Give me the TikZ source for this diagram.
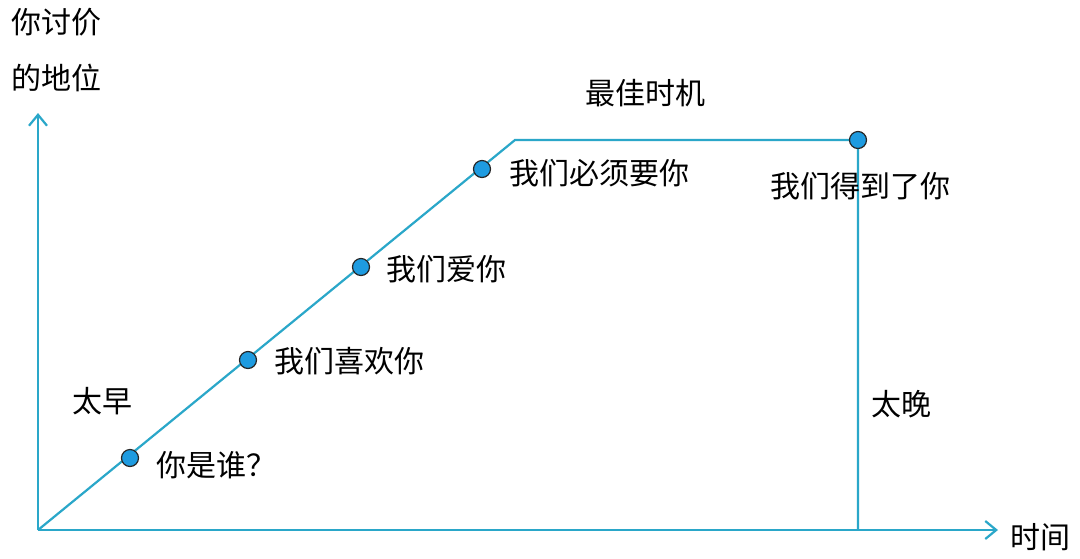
\documentclass[tikz,border=0pt]{standalone}
\usepackage{fontspec}
\newfontfamily\cjk{Noto Sans CJK SC}
\usetikzlibrary{arrows.meta}
\definecolor{ln}{HTML}{2AA7C9}
\definecolor{dotf}{HTML}{1E9BE0}
\begin{document}
\begin{tikzpicture}[x=1pt,y=-1pt,
  lbl/.style={font=\cjk\fontsize{30}{33}\selectfont,inner sep=0pt},
  dot/.style={circle,draw=black!85,line width=1.2pt,fill=dotf,minimum size=17pt,inner sep=0pt},
  ax/.style={draw=ln,line width=2.2pt,-{Straight Barb[length=11pt,width=18pt,line width=2.2pt]}}]
\useasboundingbox[fill=white] (0,0) rectangle (1080,558);
\coordinate (o) at (38,530);
\coordinate (yt) at (38,113);
\coordinate (xt) at (998,530);
\coordinate (k) at (515,140);
\coordinate (e) at (858,140);
\coordinate (eb) at (858,530);
\draw[ax] (o) -- (yt);
\draw[ax] (o) -- (xt);
\draw[ln,line width=2.2pt] (o) -- (k) -- (e) -- (eb);
\node[dot] (d1) at (130,458) {};
\node[dot] (d2) at (248,360) {};
\node[dot] (d3) at (361,267) {};
\node[dot] (d4) at (482,169) {};
\node[dot] (d5) at (858,140) {};
\node[lbl] (t1) at (57,22) {你讨价};
\node[lbl] (t2) at (57,78) {的地位};
\node[lbl] (t3) at (645,93) {最佳时机};
\node[lbl,anchor=west] (t4) at (509,173) {我们必须要你};
\node[lbl] (t5) at (860,186) {我们得到了你};
\node[lbl,anchor=west] (t6) at (386,269) {我们爱你};
\node[lbl,anchor=west] (t7) at (274,361) {我们喜欢你};
\node[lbl] (t8) at (102,401) {太早};
\node[lbl,anchor=west] (t9) at (156,465) {你是谁？};
\node[lbl] (t10) at (901,404) {太晚};
\node[lbl] (t11) at (1040,537) {时间};
\end{tikzpicture}
\end{document}
